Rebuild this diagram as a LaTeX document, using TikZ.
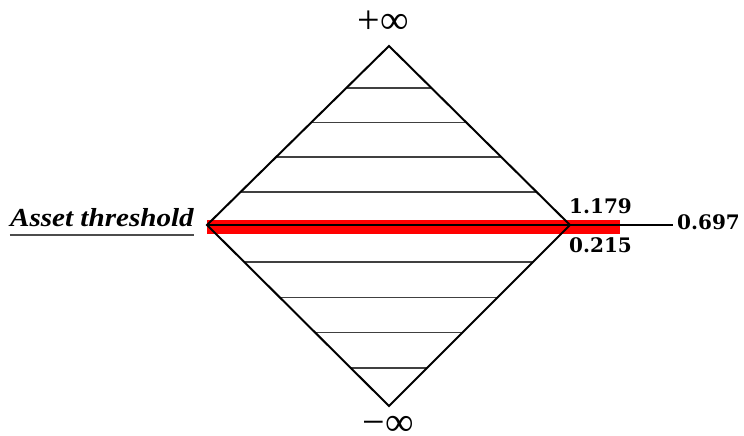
\documentclass[tikz,border=0pt]{standalone}
\usepackage{fontspec}
\setmainfont{Liberation Serif}
\newfontfamily\numfont{DejaVu Serif}
\usetikzlibrary{calc}
\begin{document}
\begin{tikzpicture}[x=1pt,y=-1pt,
  edge/.style={line width=2pt,black,line join=miter},
  hatch/.style={line width=1.8pt,black!75},
  numlbl/.style={font=\numfont\bfseries\fontsize{20}{22}\selectfont,inner sep=0pt,anchor=base west},
  inflbl/.style={font=\fontsize{40}{44}\selectfont,inner sep=0pt}]
\useasboundingbox (0,0) rectangle (744,436);
\coordinate (T) at (389,46);
\coordinate (L) at (207,225);
\coordinate (B) at (389,406);
\coordinate (R) at (570,225);
% hatching
\foreach \f in {0.2333,0.4278,0.6222,0.8167}{
  \draw[hatch] ($(T)!\f!(L)$) -- ($(T)!\f!(R)$);}
\foreach \f in {0.2111,0.4056,0.6,0.7944}{
  \draw[hatch] ($(B)!\f!(L)$) -- ($(B)!\f!(R)$);}
% red bar
\fill[red] (207,220) rectangle (620,234);
\coordinate (E) at (673,225);
\draw[line width=1.2pt] (L) -- (E);
\draw[edge] (T) -- (R) -- (B) -- (L) -- cycle;
% labels
\node[inflbl] (pinf) at (383,22) {+∞};
\node[inflbl] (minf) at (388,426) {−∞};
\node[numlbl] (a) at (569,213) {1.179};
\node[numlbl] (b) at (569,252) {0.215};
\node[numlbl] (c) at (677,229) {0.697};
\node[font=\bfseries\itshape\fontsize{26}{28}\selectfont,inner sep=0pt,anchor=base east,xscale=1.12] (lbl) at (194,226) {Asset threshold};
\draw[line width=2pt,black!70] (lbl.base west) ++(0,9) coordinate (u1) -- (u1 -| lbl.base east);
\end{tikzpicture}
\end{document}
